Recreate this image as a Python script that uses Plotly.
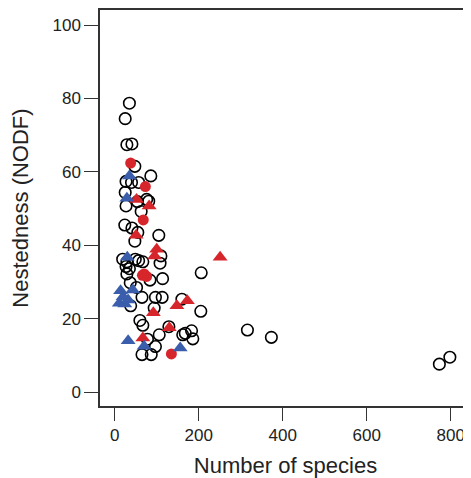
import plotly.graph_objects as go

# Open black circles
other_x = [35, 25, 29, 41, 48, 27, 40, 57, 86, 25, 27, 54, 76, 81, 63, 24, 41, 55, 48, 105,
           19, 29, 49, 57, 67, 27, 35, 29, 37, 52, 65, 38, 84, 110, 108, 114, 97, 113, 94,
           206, 205, 160, 60, 67, 78, 106, 129, 97, 65, 87, 162, 168, 183, 186, 316, 373, 773, 798]
other_y = [78.7, 74.5, 67.4, 67.6, 61.5, 57.4, 57.1, 57.1, 58.9, 54.4, 50.7, 51.9, 52.5, 52.0,
           49.2, 45.5, 44.7, 43.5, 41.1, 42.7, 36.2, 35.5, 36.2, 35.8, 35.5, 34.2, 33.6, 32.2,
           29.8, 28.5, 25.8, 23.5, 30.5, 37.1, 35.1, 30.9, 25.8, 25.8, 22.9, 32.5, 22.0, 25.3,
           19.5, 18.2, 14.4, 15.6, 17.8, 12.4, 10.2, 10.2, 15.6, 16.0, 16.7, 14.5, 16.9, 14.9,
           7.6, 9.5]

# Red filled circles
redc_x = [38, 73, 68, 70, 76, 66, 135]
redc_y = [62.4, 56.0, 46.9, 32.2, 31.5, 31.8, 10.4]

# Red triangles
redt_x = [52, 82, 51, 100, 95, 251, 92, 148, 173, 67, 130]
redt_y = [52.5, 50.7, 42.7, 38.9, 37.1, 36.7, 21.6, 23.5, 24.9, 14.7, 17.5]

# Blue triangles
bluet_x = [35, 29, 30, 14, 43, 11, 24, 32, 20, 32, 70, 156]
bluet_y = [58.9, 52.8, 36.7, 27.6, 27.8, 24.2, 24.0, 25.1, 26.0, 14.0, 12.5, 12.0]

RED = "#d7262b"
BLUE = "#3a5eab"

fig = go.Figure()
fig.add_trace(go.Scatter(x=other_x, y=other_y, mode="markers",
                         marker=dict(symbol="circle-open", size=11.5, color="black",
                                     line=dict(width=1.6, color="black"))))
fig.add_trace(go.Scatter(x=redc_x, y=redc_y, mode="markers",
                         marker=dict(symbol="circle", size=11, color=RED, line=dict(width=0))))
fig.add_trace(go.Scatter(x=redt_x, y=redt_y, mode="markers",
                         marker=dict(symbol="triangle-up", size=13, color=RED, line=dict(width=0))))
fig.add_trace(go.Scatter(x=bluet_x, y=bluet_y, mode="markers",
                         marker=dict(symbol="triangle-up", size=13, color=BLUE, line=dict(width=0))))

font = "Liberation Sans, Arial, Helvetica, sans-serif"
fig.update_layout(
    width=463, height=470,
    margin=dict(l=92, r=0, t=2, b=72),
    paper_bgcolor="white", plot_bgcolor="white",
    showlegend=False,
    font=dict(family=font, color="#222222"),
    xaxis=dict(range=[-35, 848.3], tickvals=[0, 200, 400, 600, 800],
               showline=True, linecolor="#333333", linewidth=1.5, mirror=True,
               ticks="outside", ticklen=13, tickwidth=1.2, tickcolor="#333333",
               tickfont=dict(size=17, family=font, color="#222222"),
               showgrid=False, zeroline=False,
               title=dict(text="Number of species", font=dict(size=22, family=font, color="#222222"),
                          standoff=13)),
    yaxis=dict(range=[-3.8, 104.1], tickvals=[0, 20, 40, 60, 80, 100],
               showline=True, linecolor="#333333", linewidth=1.5, mirror=False,
               ticks="outside", ticklen=14, tickwidth=1.2, tickcolor="#333333",
               tickfont=dict(size=17, family=font, color="#222222"),
               showgrid=False, zeroline=False,
               title=dict(text="Nestedness (NODF)", font=dict(size=22, family=font, color="#222222"),
                          standoff=18)),
)
fig.write_html("out.html")
